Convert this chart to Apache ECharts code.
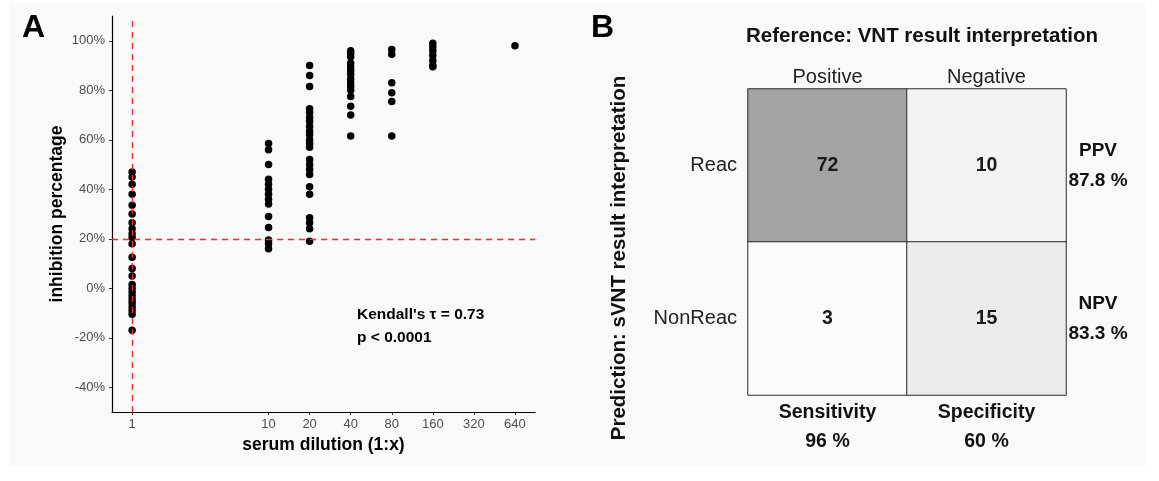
<!DOCTYPE html>
<html>
<head>
<meta charset="utf-8">
<script src="https://cdn.jsdelivr.net/npm/echarts@6/dist/echarts.min.js"></script>
<style>
  html, body { margin: 0; padding: 0; background: #fff; }
  #chart { width: 1159px; height: 481px; }
</style>
</head>
<body>
<div id="chart"></div>
<script>
// panel A: inhibition percentage per serum dilution (1:x)
var dilutions = [1, 10, 20, 40, 80, 160, 640];
var inh1 = [47, 45, 42, 38, 33.5, 30, 26.5, 24, 22, 20.5, 18, 12.5, 8, 5, 1.5, 0, -1.5, -3, -4.5, -6, -7.5, -9, -10.5, -17];
var inh10 = [58.5, 56, 50, 44, 42, 40, 38, 36, 34, 29, 24.5, 19.5, 18, 16];
var inh20 = [90, 86, 81.5, 72.5, 71, 69, 67.5, 65.5, 63.5, 62, 60, 58.5, 57, 52, 50, 48, 46, 41, 38, 28.5, 26.5, 24, 19];
var inh40 = [96, 95, 93.5, 91, 89.5, 88, 86.5, 84.5, 83, 81.5, 80, 77.5, 73.5, 70, 61.5];
var inh80 = [96.5, 94.5, 83, 79, 75.5, 61.5];
var inh160 = [99, 97.5, 96, 94, 92, 90, 89.5];
var inh640 = [98];
var xTickLabels = [1, 10, 20, 40, 80, 160, 320, 640];
var yTickLabels = [-40, -20, 0, 20, 40, 60, 80, 100];

// panel B: confusion matrix
var refCats = ['Positive', 'Negative'];
var predCats = ['Reac', 'NonReac'];
var counts = [[72, 10], [3, 15]];
var colMetricNames = ['Sensitivity', 'Specificity'];
var colMetricValues = ['96 %', '60 %'];
var rowMetricNames = ['PPV', 'NPV'];
var rowMetricValues = ['87.8 %', '83.3 %'];

var FONT = "'Liberation Sans', Arial, Helvetica, sans-serif";

var groups = [inh1, inh10, inh20, inh40, inh80, inh160, inh640];
var points = [];
groups.forEach(function (g, i) {
    g.forEach(function (v) {
        points.push([Math.log2(dilutions[i]), v]);
    });
});
var xTickPos = xTickLabels.map(function (d) { return Math.log2(d); });

var heat = [];
counts.forEach(function (row, r) {
    row.forEach(function (v, c) {
        heat.push([c, r, v]);
    });
});

var myChart = echarts.init(document.getElementById('chart'));
var option = {
    backgroundColor: '#ffffff',
    animation: false,
    textStyle: {fontFamily: FONT},
    grid: [
        {left: 112, top: 16, right: 624, bottom: 69},
        {left: 748, top: 89, right: 93, bottom: 86}
    ],
    xAxis: [
        {
            type: 'value', gridIndex: 0, min: -0.49, max: 9.81,
            name: 'serum dilution (1:x)', nameLocation: 'middle', nameGap: 24,
            nameTextStyle: {fontWeight: 'bold', fontSize: 17.5, color: '#000'},
            axisLine: {onZero: false, lineStyle: {color: '#000', width: 1.2}},
            axisTick: {customValues: xTickPos, length: 3, lineStyle: {color: '#333'}},
            axisLabel: {
                customValues: xTickPos, color: '#4d4d4d', fontSize: 13, margin: 6,
                formatter: function (v) { return String(Math.round(Math.pow(2, v))); }
            },
            splitLine: {show: false}
        },
        {
            type: 'category', gridIndex: 1, position: 'top', data: refCats,
            name: 'Reference: VNT result interpretation', nameLocation: 'middle', nameGap: 42,
            nameTextStyle: {fontWeight: 'bold', fontSize: 20.5, color: '#111', padding: [0, 0, 0, 30]},
            axisLine: {show: false}, axisTick: {show: false},
            axisLabel: {fontSize: 20, color: '#222', margin: 2}
        },
        {
            type: 'category', gridIndex: 1, position: 'bottom', data: colMetricNames,
            axisLine: {show: false}, axisTick: {show: false},
            axisLabel: {
                fontSize: 19.5, fontWeight: 'bold', color: '#111', lineHeight: 29, margin: 3,
                formatter: function (v, i) { return v + '\n' + colMetricValues[i]; }
            }
        }
    ],
    yAxis: [
        {
            type: 'value', gridIndex: 0, min: -50, max: 110,
            name: 'inhibition percentage', nameLocation: 'middle', nameGap: 46,
            nameTextStyle: {fontWeight: 'bold', fontSize: 17.5, color: '#000'},
            axisLine: {show: true, onZero: false, lineStyle: {color: '#000', width: 1.2}},
            axisTick: {show: true, customValues: yTickLabels, length: 3, lineStyle: {color: '#333'}},
            axisLabel: {
                customValues: yTickLabels, color: '#4d4d4d', fontSize: 13, margin: 7,
                formatter: function (v) { return v + '%'; }
            },
            splitLine: {show: false}
        },
        {
            type: 'category', gridIndex: 1, inverse: true, data: predCats,
            name: 'Prediction: sVNT result interpretation', nameLocation: 'middle', nameGap: 118,
            nameTextStyle: {fontWeight: 'bold', fontSize: 20.5, color: '#111', padding: [0, 32, 0, 0]},
            axisLine: {show: false}, axisTick: {show: false},
            axisLabel: {fontSize: 20, color: '#222', margin: 11}
        },
        {
            type: 'category', gridIndex: 1, inverse: true, position: 'right', data: rowMetricNames,
            axisLine: {show: false}, axisTick: {show: false},
            axisLabel: {
                fontSize: 19, fontWeight: 'bold', color: '#111', lineHeight: 30, margin: 32, align: 'center',
                formatter: function (v, i) { return v + '\n' + rowMetricValues[i]; }
            }
        }
    ],
    visualMap: {
        show: false, seriesIndex: 2, min: 0, max: 72,
        inRange: {color: ['#ffffff', '#a3a3a3']}
    },
    series: [
        {
            type: 'scatter', xAxisIndex: 0, yAxisIndex: 0, data: [], z: 1, silent: true,
            markLine: {
                silent: true, symbol: 'none', label: {show: false},
                lineStyle: {color: '#ff2b2b', type: [6, 5], width: 1.4},
                data: [{xAxis: 0}, {yAxis: 20}]
            }
        },
        {
            type: 'scatter', xAxisIndex: 0, yAxisIndex: 0, data: points, z: 3,
            symbolSize: 7.5, itemStyle: {color: '#000', opacity: 1}
        },
        {
            type: 'heatmap', xAxisIndex: 1, yAxisIndex: 1, data: heat,
            itemStyle: {borderColor: '#2b2b2b', borderWidth: 1},
            label: {show: true, fontSize: 19.5, fontWeight: 'bold', color: '#1a1a1a'}
        }
    ],
    graphic: [
        {type: 'rect', z: -100, shape: {x: 9, y: 2, width: 1136, height: 464}, style: {fill: '#f9f9f9'}},
        {type: 'text', x: 33.5, y: 28, style: {text: 'A', font: 'bold 32px ' + FONT, fill: '#000', textAlign: 'center', textVerticalAlign: 'middle'}},
        {type: 'text', x: 602.5, y: 28, style: {text: 'B', font: 'bold 32px ' + FONT, fill: '#000', textAlign: 'center', textVerticalAlign: 'middle'}},
        {type: 'text', x: 357, y: 315, style: {text: "Kendall's τ = 0.73", font: 'bold 15.5px ' + FONT, fill: '#000', textAlign: 'left', textVerticalAlign: 'middle'}},
        {type: 'text', x: 357, y: 338, style: {text: 'p < 0.0001', font: 'bold 15.5px ' + FONT, fill: '#000', textAlign: 'left', textVerticalAlign: 'middle'}}
    ]
};
myChart.setOption(option);
</script>
</body>
</html>
